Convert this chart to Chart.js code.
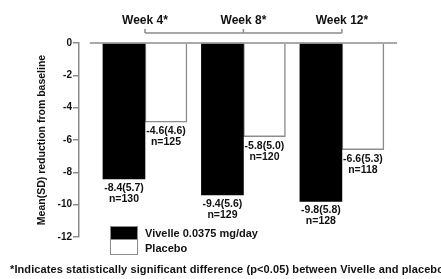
<!DOCTYPE html>
<html>
<head>
<meta charset="utf-8">
<script src="https://cdn.jsdelivr.net/npm/chart.js@4/dist/chart.umd.min.js"></script>
<style>
    body { margin: 0; background: #fff; font-family: "Liberation Sans", Arial, sans-serif; }
    #wrap { position: relative; width: 441px; height: 279px; overflow: hidden; }
    #wrap canvas { position: absolute; left: 0; top: 0; }
    #legend { position: absolute; left: 110px; top: 225px; font-size: 11px; font-weight: bold; color: #111; }
    .row { display: flex; align-items: center; height: 15px; }
    .box { width: 28px; height: 14px; border: 1px solid #8c8c8c; margin-right: 7px; box-sizing: border-box; }
    .row + .row .box { border-top: none; height: 15px; }
    #note { position: absolute; left: 10px; top: 263px; font-size: 11px; font-weight: bold; color: #111; white-space: nowrap; letter-spacing: 0.1px; }
</style>
</head>
<body>
<div id="wrap">
    <canvas id="reductionChart" width="441" height="279"></canvas>
    <div id="legend"></div>
    <div id="note">*Indicates statistically significant difference (p&lt;0.05) between Vivelle and placebo</div>
</div>
<script>
var weeks = ['Week 4*', 'Week 8*', 'Week 12*'];
var vivelle = [-8.4, -9.4, -9.8];
var placebo = [-4.9, -5.8, -6.6];
var vivelleText = ['-8.4(5.7)', '-9.4(5.6)', '-9.8(5.8)'];
var placeboText = ['-4.6(4.6)', '-5.8(5.0)', '-6.6(5.3)'];
var vivelleN = [130, 129, 128];
var placeboN = [125, 120, 118];
var yTicks = [0, -2, -4, -6, -8, -10, -12];

var grey = '#8c8c8c';

// bracket with week labels, zero line and mean(SD)/n labels under bars
var annotations = {
    id: 'annotations',
    afterDatasetsDraw: function (chart) {
        var ctx = chart.ctx;
        var x = chart.scales.x;
        var y = chart.scales.y;
        var zero = y.getPixelForValue(0);
        ctx.save();
        ctx.strokeStyle = grey;
        ctx.lineWidth = 1.5;

        ctx.beginPath();
        ctx.moveTo(x.getPixelForValue(1 - 0.56), zero);
        ctx.lineTo(x.getPixelForValue(weeks.length + 0.56), zero);
        ctx.stroke();

        var by = zero - 10;
        ctx.beginPath();
        ctx.moveTo(x.getPixelForValue(1), by);
        ctx.lineTo(x.getPixelForValue(weeks.length), by);
        weeks.forEach(function (w, i) {
            var px = x.getPixelForValue(i + 1);
            ctx.moveTo(px, by);
            ctx.lineTo(px, by - 4);
        });
        ctx.stroke();

        ctx.fillStyle = '#111';
        ctx.textAlign = 'center';
        ctx.textBaseline = 'middle';
        ctx.font = 'bold 12px "Liberation Sans", Arial, sans-serif';
        weeks.forEach(function (w, i) {
            ctx.fillText(w, x.getPixelForValue(i + 1), by - 12);
        });

        ctx.font = 'bold 10.5px "Liberation Sans", Arial, sans-serif';
        var texts = [[vivelleText, vivelleN], [placeboText, placeboN]];
        texts.forEach(function (t, d) {
            chart.getDatasetMeta(d).data.forEach(function (bar, i) {
                ctx.fillText(t[0][i], bar.x, bar.y + 9);
                ctx.fillText('n=' + t[1][i], bar.x, bar.y + 20);
            });
        });
        ctx.restore();
    }
};

var chart = new Chart(document.getElementById('reductionChart').getContext('2d'), {
    type: 'bar',
    data: {
        datasets: [{
            label: 'Vivelle 0.0375 mg/day',
            data: vivelle.map(function (v, i) { return { x: i + 1, y: v }; }),
            backgroundColor: '#000',
            borderColor: '#000',
            borderWidth: 0
        }, {
            label: 'Placebo',
            data: placebo.map(function (v, i) { return { x: i + 1, y: v }; }),
            backgroundColor: '#fff',
            borderColor: grey,
            borderWidth: 1.5
        }]
    },
    options: {
        responsive: false,
        animation: false,
        barThickness: 42,
        layout: { padding: { top: 43, bottom: 42, left: 0, right: 41 } },
        plugins: { legend: { display: false }, tooltip: { enabled: false } },
        scales: {
            x: {
                type: 'linear',
                offset: false,
                min: 0.33,
                max: 3.59,
                display: false
            },
            y: {
                min: -12,
                max: 0,
                afterBuildTicks: function (s) {
                    s.ticks = yTicks.map(function (v) { return { value: v }; });
                },
                afterFit: function (s) { s.width = 79; },
                ticks: {
                    color: '#111',
                    padding: 1,
                    font: { family: '"Liberation Sans", Arial, sans-serif', size: 10, weight: 'bold' }
                },
                grid: { drawOnChartArea: false, tickLength: 6, color: grey, lineWidth: 1.5 },
                border: { color: grey, width: 1.5 },
                title: {
                    display: true,
                    text: 'Mean(SD) reduction from baseline',
                    color: '#111',
                    padding: { top: 36, bottom: 0 },
                    font: { family: '"Liberation Sans", Arial, sans-serif', size: 10.5, weight: 'bold' }
                }
            }
        }
    },
    plugins: [annotations]
});

// legend boxes stacked like the original
var legend = document.getElementById('legend');
chart.data.datasets.forEach(function (ds) {
    var row = document.createElement('div');
    row.className = 'row';
    var box = document.createElement('div');
    box.className = 'box';
    box.style.background = ds.backgroundColor;
    var label = document.createElement('span');
    label.textContent = ds.label;
    row.appendChild(box);
    row.appendChild(label);
    legend.appendChild(row);
});
</script>
</body>
</html>
